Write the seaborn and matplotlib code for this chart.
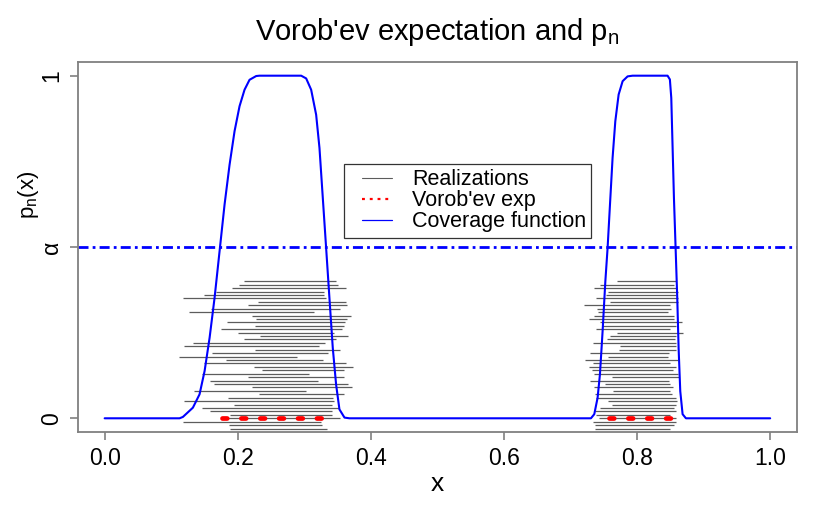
import matplotlib
matplotlib.use("Agg")
import matplotlib.pyplot as plt
import seaborn as sns
from matplotlib.lines import Line2D
from matplotlib.legend_handler import HandlerLine2D

# realizations: one level per realization, two intervals each
real_y = [0.40, 0.39, 0.38, 0.37, 0.36, 0.35, 0.34, 0.33, 0.32, 0.31, 0.30,
          0.29, 0.28, 0.27, 0.26, 0.25, 0.24, 0.23, 0.22, 0.21, 0.20, 0.19,
          0.18, 0.17, 0.16, 0.15, 0.14, 0.13, 0.12, 0.11, 0.10, 0.09, 0.08,
          0.07, 0.06, 0.05, 0.04, 0.03, 0.02, 0.01, 0.00, -0.01, -0.02, -0.03]
left_start = [0.209, 0.202, 0.191, 0.168, 0.150, 0.118, 0.230, 0.216, 0.160, 0.127, 0.221,
              0.227, 0.184, 0.226, 0.175, 0.201, 0.233, 0.209, 0.133, 0.119, 0.226, 0.161,
              0.112, 0.182, 0.149, 0.224, 0.236, 0.146, 0.215, 0.159, 0.164, 0.222, 0.134,
              0.232, 0.186, 0.119, 0.195, 0.146, 0.159, 0.188, 0.178, 0.118, 0.187, 0.188]
left_end = [0.347, 0.351, 0.363, 0.330, 0.329, 0.333, 0.362, 0.364, 0.354, 0.315, 0.370,
            0.364, 0.361, 0.359, 0.356, 0.344, 0.366, 0.348, 0.331, 0.322, 0.353, 0.335,
            0.289, 0.328, 0.363, 0.373, 0.359, 0.307, 0.359, 0.321, 0.365, 0.371, 0.302,
            0.359, 0.343, 0.344, 0.342, 0.352, 0.342, 0.341, 0.354, 0.325, 0.327, 0.334]
right_start = [0.770, 0.744, 0.736, 0.757, 0.753, 0.739, 0.759, 0.720, 0.740, 0.741, 0.735,
               0.728, 0.744, 0.748, 0.739, 0.770, 0.760, 0.755, 0.734, 0.775, 0.773, 0.730,
               0.756, 0.722, 0.734, 0.728, 0.732, 0.735, 0.763, 0.730, 0.752, 0.735, 0.764,
               0.737, 0.739, 0.757, 0.763, 0.745, 0.737, 0.739, 0.743, 0.734, 0.737, 0.737]
right_end = [0.859, 0.855, 0.858, 0.861, 0.858, 0.861, 0.861, 0.849, 0.851, 0.847, 0.855,
             0.856, 0.867, 0.858, 0.850, 0.869, 0.858, 0.857, 0.858, 0.858, 0.858, 0.848,
             0.847, 0.861, 0.849, 0.858, 0.854, 0.861, 0.863, 0.848, 0.849, 0.854, 0.850,
             0.852, 0.858, 0.860, 0.859, 0.856, 0.858, 0.849, 0.858, 0.858, 0.856, 0.849]

# coverage function p_n(x)
cov_x = [0.0,
         0.1126, 0.1176, 0.1326, 0.1426, 0.1502, 0.1577, 0.1652, 0.1727, 0.1802, 0.1877,
         0.1952, 0.2027, 0.2102, 0.2177, 0.2277, 0.2327, 0.2953, 0.3028, 0.3103, 0.3178,
         0.3228, 0.3278, 0.3328, 0.3378, 0.3428, 0.3478, 0.3528, 0.3604, 0.3679,
         0.7307, 0.7357, 0.7407, 0.7442, 0.7482, 0.7523, 0.7557, 0.7593, 0.7632, 0.7673,
         0.7723, 0.7783, 0.7858, 0.7933, 0.8458, 0.8493, 0.8514, 0.8534, 0.8554, 0.8579,
         0.8604, 0.8624, 0.8649, 0.8684, 0.8734,
         1.0]
cov_p = [0,
         0, 0.004, 0.031, 0.070, 0.138, 0.235, 0.352, 0.488, 0.624, 0.740,
         0.838, 0.911, 0.959, 0.988, 0.999, 1, 1, 0.992, 0.959, 0.886,
         0.789, 0.643, 0.497, 0.350, 0.205, 0.098, 0.026, 0.002, 0,
         0, 0.012, 0.060, 0.128, 0.254, 0.399, 0.497, 0.624, 0.760, 0.867,
         0.945, 0.984, 0.998, 1, 1, 0.989, 0.935, 0.789, 0.643, 0.497,
         0.350, 0.205, 0.079, 0.012, 0,
         0]

# Vorob'ev expectation intervals (at level 0)
vorob_start = [0.176, 0.758]
vorob_end = [0.326, 0.852]
vorob_y = 0.0
alpha_level = 0.5

sns.set_style("ticks")
plt.rcParams['font.family'] = ['Liberation Sans', 'DejaVu Sans']
plt.rcParams['mathtext.fontset'] = 'custom'
plt.rcParams['mathtext.rm'] = 'Liberation Sans'
plt.rcParams['text.color'] = 'black'
plt.rcParams['axes.labelcolor'] = 'black'

fig = plt.figure(figsize=(8.3, 5.11), dpi=100)
ax = fig.add_axes([0.094, 0.1546, 0.866, 0.7241])

ax.hlines(real_y, left_start, left_end, color='#5c5c5c', lw=0.9)
ax.hlines(real_y, right_start, right_end, color='#5c5c5c', lw=0.9)

sns.lineplot(x=cov_x, y=cov_p, ax=ax, color='blue', lw=1.5, estimator=None)

ax.hlines([vorob_y] * len(vorob_start), vorob_start, vorob_end, color='red', lw=3.4,
          linestyles=[(0, (1, 3))], capstyle='round')
ax.axhline(alpha_level, color='blue', lw=2.0, dashes=(3.6, 1.5, 1.0, 1.5))

ax.set_xlim(-0.04, 1.04)
ax.set_ylim(-0.04, 1.04)
ax.set_xticks([0.0, 0.2, 0.4, 0.6, 0.8, 1.0])
ax.set_xticklabels(['0.0', '0.2', '0.4', '0.6', '0.8', '1.0'])
ax.set_yticks([0, alpha_level, 1])
ax.set_yticklabels(['0', 'α', '1'], rotation=90, va='center')

for s in ax.spines.values():
    s.set_color('#808080')
    s.set_linewidth(1.3)
ax.tick_params(axis='both', direction='out', length=6, width=1.2, color='#808080',
               labelsize=16.5, pad=4.5, labelcolor='black')

ax.set_xlabel('x', fontsize=19, labelpad=2)
ax.set_ylabel(r'$\mathregular{p_n(x)}$', fontsize=16)
ax.yaxis.set_label_coords(-0.052, 0.64)
ax.set_title(r"Vorob'ev expectation and $\mathregular{p_n}$", fontsize=21, pad=16)

handles = [Line2D([], [], color='#5c5c5c', lw=0.8),
           Line2D([], [], color='red', lw=1.6, linestyle=(0, (1.3, 2.2))),
           Line2D([], [], color='blue', lw=0.9)]
labels = ['Realizations', "Vorob'ev exp", 'Coverage function']
leg = ax.legend(handles, labels, loc='upper left', bbox_to_anchor=(0.370, 0.724),
                borderaxespad=0, fontsize=15.5, frameon=True, fancybox=False,
                edgecolor='#333333', framealpha=1, borderpad=0.25,
                handlelength=1.97, handletextpad=0.93, labelspacing=0.0,
                handler_map={Line2D: HandlerLine2D(xpad=0.58)})
leg.get_frame().set_linewidth(0.9)

fig.savefig('out.png', dpi=100)
